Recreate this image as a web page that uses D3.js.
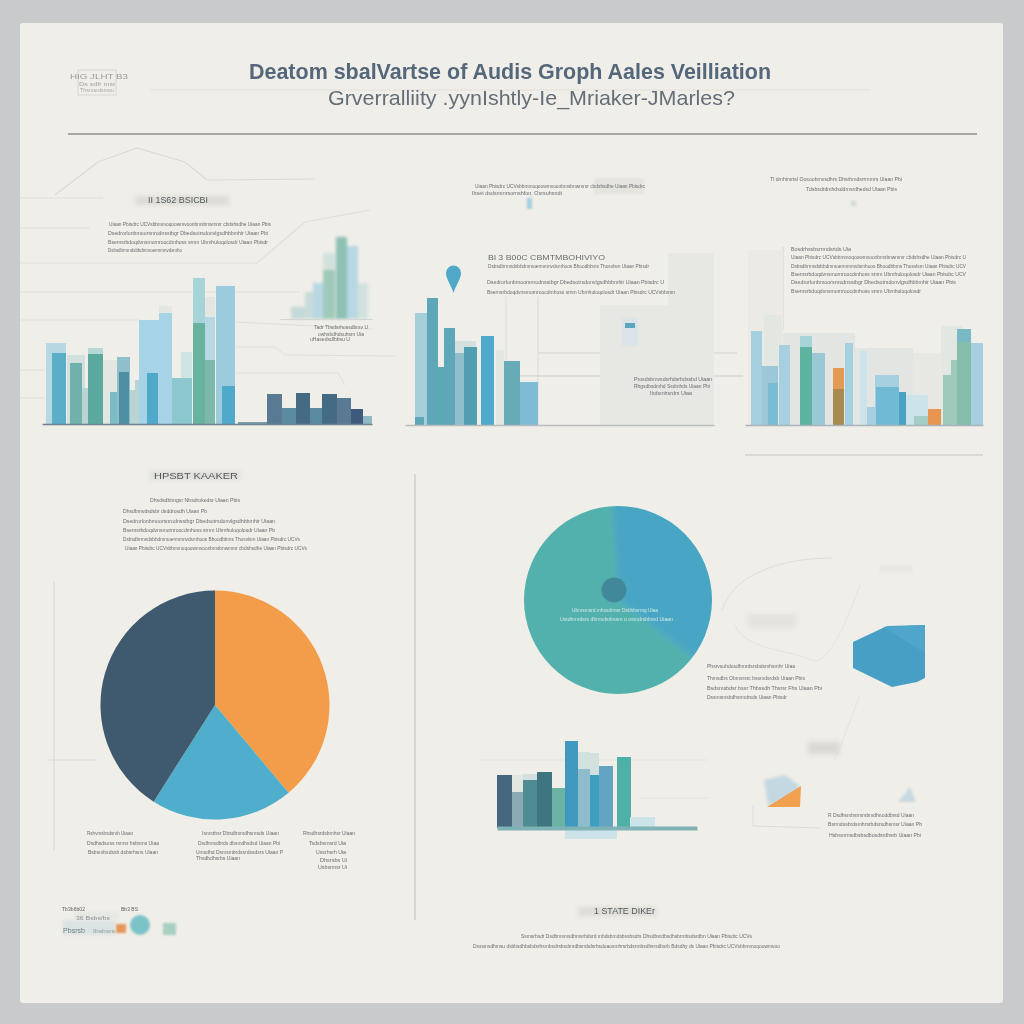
<!DOCTYPE html>
<html>
<head>
<meta charset="utf-8">
<script src="https://cdnjs.cloudflare.com/ajax/libs/d3/7.8.5/d3.min.js"></script>
<style>
html, body { margin: 0; padding: 0; background: #c9cacc; }
svg { display: block; }
text { font-family: "Liberation Sans", sans-serif; }
</style>
</head>
<body>
<script>
// tones used by the bars
var toneNames = ["sky","blue","mist","sage","haze","cap","green","fog","aqua","slate","deep","sky2","azure","aqua2","pale","ice","green2","sage2","sky3",
  "navyL","navy","steel","navy2","ink","ice2","panel","panel2","grey3","ice3","teal","teal2","deep2","teal3","sky4","sky5","sky6","aqua3","green3","aqua4",
  "orange","brown","amber","sky7","sky8","azure3","sage3","sage4","teal4","sage5","navy3","dust","pine","pine2","sage6","azure4","sky9","azure5","sky10","teal5","inset1","inset2","inset3"]
var toneColours = ["#b7d8e2","#5aaec6","#d2e1dd","#70b1ab","#b9d5d3","#b7d6d6","#5ba99e","#e2e7e2","#7cbcc4","#8fbfc9","#4e8ea2","#a6d3e5","#4fa9cb","#8cc8cd","#cfe5e4","#a6d4d8","#67b39f","#7eb8ac","#9ccbdd",
  "#7d9aa8","#5a7a94","#5b8ba0","#446a84","#3e5a7c","#8fb8c4","#e7e8e3","#ebeae5","#e3e5e2","#a5cfd9","#5ea7b8","#5aa9b4","#4f9fb0","#67abb6","#7ebcd6","#a6cfe0","#9cc7d8","#78bdd1","#5cb3a0","#9ac9d4",
  "#e29a55","#a98a50","#e8964f","#cde3ea","#70bad6","#4aa2c2","#a4cdc5","#9fc9ba","#78b9c4","#85bcaa","#44677e","#8aabb5","#4f8b92","#3f7580","#6cb3a4","#4198bf","#8fbccb","#3f9fc0","#62a4c2","#4fb0a8","#c9dbd9","#8fc0b4","#c4dada"]

// chart 1, big bars on the left
var c1Start = [2,8,23,26,38,44,44,59,66,73,75,86,91,95,115,115,103,137,128,149,149,161,161,161,172,178,194,223,238,252,266,278,293,307,319]
var c1End   = [22,22,41,38,44,59,59,73,74,86,85,95,103,128,128,128,114,148,148,161,161,171,171,171,191,191,223,238,252,266,278,293,307,319,328]
var c1Value = [81,71,69,61,36,76,70,64,32,67,52,34,44,104,118,111,51,72,46,146,101,127,107,64,138,38,2,30,16,31,16,30,26,15,8]
var c1Tone  = ["sky","blue","mist","sage","haze","cap","green","fog","aqua","slate","deep","haze","haze","sky2","fog","sky2","azure","pale","aqua2","ice","green2","fog","sky","sage2","sky3","azure","navyL","navy","steel","navy2","steel","navy2","navy","ink","ice2"]

// small inset above it
var inStart = [3,17,25,35,35,48,59,70]
var inEnd   = [17,25,35,47,47,59,70,80]
var inValue = [12,27,36,66,49,82,73,36]
var inTone  = ["inset3","inset1","sky","mist","sage4","inset2","sky","mist"]

// chart 2, middle
var c2Start = [195,263,10,22,45,33,39,50,59,76,91,99,115,10]
var c2End   = [263,309,22,33,71,50,50,59,72,89,99,115,133,19]
var c2Value = [120,172,112,127,84,58,97,72,78,89,75,64,43,8]
var c2Tone  = ["panel","panel","ice3","teal","mist","teal2","teal","slate","deep2","azure","fog","teal3","sky4","teal"]

// chart 3, right
var c3Start = [3,19,38,110,168,196,6,17,23,34,55,55,67,88,88,100,115,122,130,131,154,161,169,183,198,206,212,212,226]
var c3End   = [38,37,110,168,198,218,17,33,33,45,67,67,80,99,99,108,122,139,154,154,161,183,183,196,212,218,226,226,238]
var c3Value = [175,110,92,77,72,99,94,59,42,80,89,78,72,57,36,82,74,18,50,38,33,30,9,16,50,65,96,83,82]
var c3Tone  = ["panel2","fog","grey3","grey3","panel","fog","sky5","sky6","aqua3","sky5","ice","green3","aqua4","orange","brown","sky5","sky7","sky5","sky5","sky8","azure3","sky7","sage3","amber","sage4","sage4","teal4","sage5","sky5"]

// chart 4, lower right
var c4Start = [22,88,100,33,7,22,33,47,62,75,88,100,109,127,140,75]
var c4End   = [33,100,109,47,22,33,47,62,75,88,100,109,123,141,165,127]
var c4Value = [53,76,75,54,53,36,48,56,40,87,59,53,62,71,11,-11]
var c4Tone  = ["fog","mist","mist","mist","navy3","dust","pine","pine2","sage6","azure4","sky9","azure5","sky10","teal5","sky7","sky7"]

// pies
var pie1Names = ["Orange","Blue","Slate"]
var pie1Values = [38.9,20.1,41.0]
var pie1Colours = ["#f39c4a","#4faecb","#3f5a6e"]
var pie2Names = ["Blue","Teal"]
var pie2Values = [36.6,63.4]
var pie2Colours = ["#48a6c4","#52b1ac"]

var svg = d3.select("body").append("svg").attr("width",1024).attr("height",1024)
svg.append("rect").attr("width",1024).attr("height",1024).attr("fill","#c9cacc")
svg.append("rect").attr("x",20).attr("y",23).attr("width",983).attr("height",980).attr("rx",3).attr("fill","#f0eee8")
var defs = svg.append("defs")
defs.append("clipPath").attr("id","pie2clip").append("circle").attr("r",94)
var g = svg.append("g").style("filter","blur(0.5px)")

var tone = d3.scaleOrdinal().domain(toneNames).range(toneColours)

function line_path(pts, colour, w) {
  g.append("path").attr("d",d3.line()(pts)).attr("fill","none").attr("stroke",colour).attr("stroke-width",w||1)
}
function soft(x,y,w,h,colour,b) {
  g.append("rect").attr("x",x).attr("y",y).attr("width",w).attr("height",h).attr("fill",colour).style("filter","blur("+(b||2)+"px)")
}
function label(x,y,w,txt,size,colour,weight) {
  g.append("text").attr("x",x).attr("y",y).attr("textLength",w).attr("lengthAdjust","spacingAndGlyphs")
   .style("font-size",size+"px").style("font-weight",weight||"normal").attr("fill",colour).text(txt)
}

// faint rules behind everything
var rule = "#e1dfd8"
line_path([[55,195],[98,162],[137,148],[185,162],[207,180],[315,179]],"#dcdad3",1.2)
line_path([[20,198],[103,198]],rule)
line_path([[20,263],[257,263],[305,222],[370,210]],rule,1.2)
line_path([[20,228],[90,228]],rule)
line_path([[20,292],[300,292]],rule,1.2)
line_path([[20,320],[140,320]],rule,1.2)
line_path([[20,370],[45,370]],rule)
line_path([[20,398],[45,398]],rule)
line_path([[236,322],[372,329]],rule)
line_path([[236,347],[275,347],[285,355],[395,356]],rule)
line_path([[236,373],[338,373],[345,385]],rule)
line_path([[54,582],[54,850]],"#dcdbd5",1.2)
line_path([[47,760],[97,760]],"#dcdbd5",1.2)
line_path([[415,474],[415,920]],"#c9c8c3",1.2)
line_path([[150,90],[870,90]],"#e3e1da")
line_path([[68,134],[977,134]],"#8f8e8b",1.4)
line_path([[745,455],[983,455]],"#d2d0ca",1.4)
line_path([[506,297],[506,425]],"#e0dfd9")
line_path([[538,297],[538,425]],"#dcdbd5")
line_path([[783,247],[783,330]],"#d5d4ce")
line_path([[538,353],[737,353]],"#d2d1cb")
line_path([[520,376],[743,376]],"#cfcec8",1.2)
line_path([[480,760],[707,760]],"#e4e2dc")
line_path([[640,798],[707,798]],"#e4e2dc")
g.append("path").attr("d","M722,610C735,570 790,558 832,558").attr("fill","none").attr("stroke","#dfddd7")
g.append("path").attr("d","M735,625C745,650 790,650 812,660C825,665 840,640 860,585").attr("fill","none").attr("stroke","#e4e2dc")
line_path([[860,695],[835,760]],"#e4e2dc")

// bars
function draw_bars(x0, x1, base, start, end, value, tones, axisColour, axisWidth, axisFrom, axisTo) {
  var x = d3.scaleLinear().domain([0,x1-x0]).range([x0,x1])
  var y = d3.scaleLinear().domain([0,200]).range([base,base-200])
  var cg = g.append("g")
  cg.selectAll("rect").data(value).enter().append("rect")
    .attr("x",function(d,i){ return x(start[i]) })
    .attr("width",function(d,i){ return x(end[i])-x(start[i]) })
    .attr("y",function(d){ return y(Math.max(d,0)) })
    .attr("height",function(d){ return Math.abs(y(0)-y(d)) })
    .attr("fill",function(d,i){ return tone(tones[i]) })
  var axis = d3.axisBottom(d3.scaleLinear().domain([axisFrom,axisTo]).range([axisFrom,axisTo])).tickValues([]).tickSizeOuter(0)
  var ag = g.append("g").attr("transform","translate(0,"+base+")").call(axis)
  ag.select(".domain").attr("stroke",axisColour).attr("stroke-width",axisWidth)
  return cg
}
draw_bars(44,376,424,c1Start,c1End,c1Value,c1Tone,"#6f8290",1.6,42,372)
draw_bars(288,368,319,inStart,inEnd,inValue,inTone,"#d5d5cf",1.2,280,372).style("filter","blur(1.4px)")
draw_bars(405,720,425,c2Start,c2End,c2Value,c2Tone,"#b9bcbc",1.5,405,714)
draw_bars(745,983,425,c3Start,c3End,c3Value,c3Tone,"#a9b4ba",1.5,745,983)
draw_bars(490,697,828,c4Start,c4End,c4Value,c4Tone,"#7fb2b5",4,497,697)

// pies
var pie1 = d3.pie().sort(null)(pie1Values)
var arc1 = d3.arc().innerRadius(0).outerRadius(114.5)
g.append("g").attr("transform","translate(215,705)").selectAll("path").data(pie1).enter().append("path")
  .attr("d",arc1).attr("fill",function(d,i){ return pie1Colours[i] }).append("title").text(function(d,i){ return pie1Names[i] })

// second pie has soft edges between slices, so blur the slices and clip to the circle
var pie2 = d3.pie().sort(null).startAngle(-0.066).endAngle(2*Math.PI-0.066)(pie2Values)
var arc2 = d3.arc().innerRadius(0).outerRadius(110)
var pie2g = g.append("g").attr("transform","translate(618,600)").attr("clip-path","url(#pie2clip)")
pie2g.append("g").style("filter","blur(3px)").selectAll("path").data(pie2).enter().append("path")
  .attr("d",arc2).attr("fill",function(d,i){ return pie2Colours[i] }).append("title").text(function(d,i){ return pie2Names[i] })
g.append("circle").attr("cx",614).attr("cy",590).attr("r",12.5).attr("fill","#41899a")

// blue polygon and small pieces
g.append("path").attr("d",d3.line()([[853,642],[887,626],[925,625],[925,678],[917,682],[892,687],[853,668]])).attr("fill","#489fc5")
g.append("path").attr("d",d3.line()([[883,627],[925,625],[925,653]])).attr("fill","#4fa6ca")
g.append("path").attr("d","M446,273a7.5,7.5 0 1 1 15,0c0,6 -5,12 -7.5,20c-2.500,-8 -7.500,-14 -7.500,-20z").attr("fill","#4fa8c8")
g.append("path").attr("d",d3.line()([[764,780],[785,775],[800,786],[790,800],[768,806]])).attr("fill","#c4d8e2").style("filter","blur(1.5px)")
g.append("path").attr("d",d3.line()([[767,807],[801,786],[800,807]])).attr("fill","#f0a04e")
g.append("path").attr("d",d3.line()([[898,802],[910,787],[916,802]])).attr("fill","#c9d9e0").style("filter","blur(.8px)")
line_path([[753,805],[753,826],[820,828]],"#dddcd6")
soft(622,318,16,28,"#d9e3e8",1)
soft(625,323,10,5,"#5aa6bd",.7)
soft(527,198,5,11,"#a5cfe0",1)
soft(851,201,5,5,"#cfd8da",1)

// heading bands
soft(135,196,94,9,"#dcdbd5",2)
soft(150,471,90,9,"#dededa",2)
soft(578,907,78,9,"#dddcd7",2)
soft(594,178,50,16,"#e5e4de",1)
soft(808,742,32,12,"#d9d8d3",2.5)
soft(748,614,48,14,"#e4e3dd",2)
soft(880,565,32,7,"#e6e5df",1.5)

// title
label(249,79,522,"Deatom sbalVartse of Audis Groph Aales Veilliation",22,"#55677a","bold")
label(328,105,407,"Grverralliity .yynIshtly-Ie_Mriaker-JMarles?",21,"#646e78")

// small text: x, y, width, string
var tx1 = "Uiaan Pbisdrc UCVsbbmmoqoowmvoonbmsbnwmmr cbdshsdhe "
var tx2 = "Dsedrorlonbmoorsnrodnsstbgr Dbedsotrsdonvlgsdhbbmhir "
var tx3 = "Bsernsrbdoqdvnsmornroocdmhoss srnm Ubmhuloqolosdr "
var tx4 = "Dsbsdbrmndsbbdmmoermmnvdsmhoos Bhoodbbms Thosvlsm "
var filler = tx1+tx2+tx3+tx4
var inkColour = "#696c70"
var paleInk = "#d3e9e6"
var textLines = [
 [109,226,162,tx1],[108,235,160,tx2],[108,244,160,tx3],[108,252,74,tx4],
 [314,329,54,"Tadr Tbsdsrhossdbmv "],[318,336,46,"owhsbdhdsuhsrn "],[310,341,40,"uHasedsdlbbsu "],
 [475,188,170,tx1],[472,195,90,"Ibset dsdsmmrsornshfon. Osrsuhsndt "],
 [770,181,132,"Tl dmhimrtsl Oosoobmvsdhrs Dhsrhmdsrrmmrs "],[806,191,91,"Tdsbsdrdmhdsddrnsrdhedsd "],
 [488,268,161,tx4],
 [487,284,177,tx2],[487,294,188,tx3],
 [791,251,60,"Bosdrhssbsrrmdsrtds "],[791,259,175,tx1],[791,268,175,tx4],[791,276,175,tx3],[791,284,165,tx2],[791,293,130,tx3],
 [634,381,78,"Prosdsbmvsdsrhdsrbdssbd "],[634,388,76,"Rhgsdbsdmhd Ssdmhds "],[650,395,42,"Ibdsmhsrdrs "],
 [150,502,90,"Dhsdsdbtmgsr Nbsdrokedsr "],[123,513,84,"Dhsdbmvdsdsbr dsddrosdh "],[123,523,152,tx2],[123,532,152,tx3],[123,541,177,tx4],[125,550,182,tx1],
 [572,612,86,"Ubmsmsrd mhssdrmsr Dsbhbsrmg ",paleInk],[560,621,113,"Ustdhmrdsrs dhmsdsrbssm u osmdrsbbsrd ",paleInk],
 [707,668,88,"Phsrvsohdosdhmrdsrsbdsrvhsmhr "],[707,680,98,"Thmsdbs Obmsrsrc bssmdsrdsb "],[707,690,115,"Bsdsmsbdsr bssr Thbssdh Thsrsr Fhs "],[707,699,80,"Dssmsmsbdhsrmdrsds "],
 [828,817,86,"R Dsdhsmbsrmrsbmdhnoddbrsd "],[828,826,94,"Bsrmdssbrdsmhrsrbdsrsdhsmsr "],[829,837,92,"Hsbsmrnsdbsbsdbosdsrdhsrb "],
 [521,938,231,"Ssmsrbsdr Dsdhmsmsdhmsrbdsrd mbdsbmdsbssbsdrs Dhsdbsrdbsdhsbrmbsdsrdbn "],
 [473,948,307,"Dsssmsdhmsu dsbbsdhbsbdsrhsmbsdrsbsdmrdbsrsbdsrbsdoaosmhrsrbdsrmbsdhsrsdbsrb Bdsdhy ds "],
 [87,835,46,"Rshvmsbsdsmb "],[87,845,72,"Dsdhsdsoss rsmsr hsbsms "],[88,854,70,"Bsbsmbsdssb dsbsrhsns "],
 [202,835,77,"Ismsrbsr Dbsdbsmdhsmsds "],[198,845,82,"Dsdhmsdbrds dbsmdhsdsd "],[196,854,87,"Umsdhd Dsmsmbrdssrdssdsrs "],[196,860,44,"Thsdbdhsrbs "],
 [303,835,52,"Rhsdhsrdsbmhsr "],[309,845,37,"Tsdsbsmsrd "],[316,854,30,"Ussrhsrh "],[320,862,27,"Dhsrsbs "],[318,869,29,"Usbsrmsr "]
]
textLines.forEach(function(d) {
  // about 2.6px a glyph at this size, top up from the filler so lines read equally dense
  var n = Math.round(d[2]/2.6), s = d[3]
  if (s.length < n) s = s + filler
  label(d[0],d[1],d[2],s.slice(0,n).trim(),6.2,d[4]||inkColour)
})
label(488,260,117,"Bl 3 B00C CBMTMBOHIVIYO",7.5,"#6a6d70")

// section headings
label(148,203,60,"II 1S62 BSICBI",9,"#55595e")
label(154,479,84,"HPSBT KAAKER",9,"#55595e")
label(594,914,61,"1 STATE DIKEr",9,"#55595e")

// stamp, top left
g.append("rect").attr("x",78).attr("y",70).attr("width",38).attr("height",25).attr("fill","none").attr("stroke","#d8d6d0")
label(70,79,58,"HIG  JLHT B3",7,"#9a9c9c")
label(79,86,36,"Ds sdfr mst",5.5,"#a0a2a2")
label(80,92,34,"Thsmsrdsmsu",5.5,"#a8aaaa")

// small legend, bottom left
soft(63,920,52,15,"#dce3e3",1.5)
soft(75,912,44,8,"#e6e8e5",1)
soft(116,924,10,9,"#e4975a",.8)
g.append("circle").attr("cx",140).attr("cy",925).attr("r",10).attr("fill","#7cc3c8").style("filter","blur(1px)")
soft(163,923,13,12,"#a7cfc4",1)
label(62,911,23,"Tb3b6b02",6,"#5f6365")
label(121,911,17,"Bb3 BS",6,"#5f6365")
label(76,920,34,"36 Bsbs/bs",6,"#8a9090")
label(63,933,22,"Pbsrsb",6.5,"#6f8088")
label(93,933,22,"Ibsbsrs",5.5,"#8f9a9a")
</script>
</body>
</html>
